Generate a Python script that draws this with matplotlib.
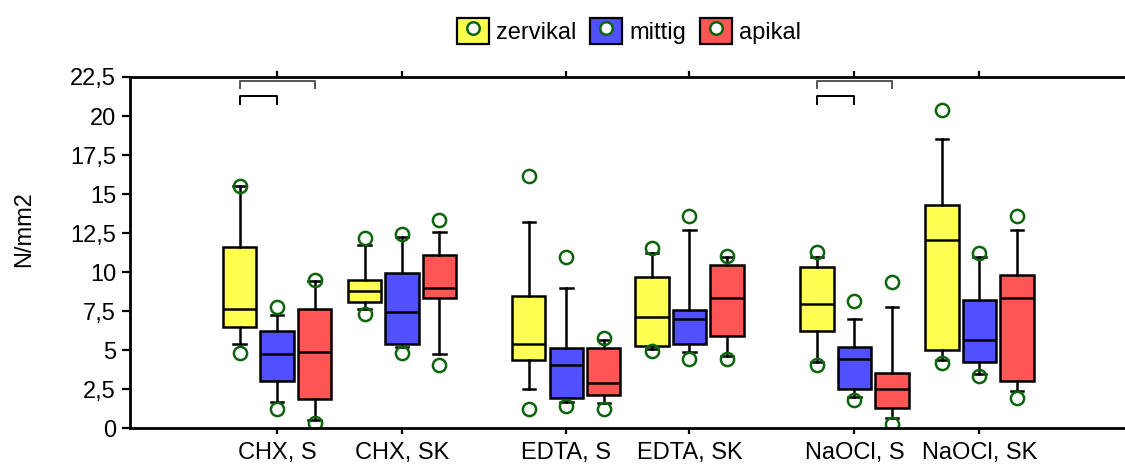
import matplotlib.pyplot as plt
from matplotlib.patches import Patch
from matplotlib.lines import Line2D
from matplotlib.legend_handler import HandlerTuple

plt.rcParams['font.family'] = ['Liberation Sans', 'DejaVu Sans']

categories = ['CHX, S', 'CHX, SK', 'EDTA, S', 'EDTA, SK', 'NaOCl, S', 'NaOCl, SK']
series = ['zervikal', 'mittig', 'apikal']
colors = ['#ffff50', '#5050ff', '#ff5555']

# per category: low outlier, lower whisker, q1, median, q3, upper whisker, high outlier
zervikal = [
    [4.85, 5.43, 6.50, 7.67, 11.62, 15.50, 15.50],
    [7.35, 7.67, 8.06, 8.78, 9.53, 11.77, 12.20],
    [1.26, 2.50, 4.36, 5.43, 8.46, 13.23, 16.13],
    [4.96, 5.11, 5.28, 7.14, 9.68, 11.24, 11.52],
    [4.08, 4.25, 6.22, 7.93, 10.32, 10.94, 11.26],
    [4.19, 4.36, 5.00, 12.05, 14.32, 18.53, 20.38],
]
mittig = [
    [1.26, 1.69, 3.01, 4.77, 6.22, 7.24, 7.78],
    [4.85, 5.21, 5.41, 7.46, 9.96, 12.27, 12.44],
    [1.43, 1.69, 1.97, 4.08, 5.17, 8.97, 10.96],
    [4.47, 4.87, 5.38, 7.03, 7.56, 12.69, 13.61],
    [1.79, 2.01, 2.50, 4.47, 5.19, 7.01, 8.18],
    [3.33, 3.50, 4.25, 5.68, 8.21, 10.94, 11.24],
]
apikal = [
    [0.36, 0.51, 1.86, 4.87, 7.67, 9.42, 9.53],
    [4.08, 4.77, 8.35, 9.00, 11.13, 12.56, 13.33],
    [1.26, 1.65, 2.12, 2.91, 5.17, 5.64, 5.81],
    [4.42, 4.62, 5.92, 8.35, 10.45, 10.94, 11.03],
    [0.26, 0.66, 1.28, 2.50, 3.55, 7.78, 9.38],
    [1.97, 2.39, 3.03, 8.35, 9.81, 12.69, 13.61],
]
yticks = [0, 2.5, 5, 7.5, 10, 12.5, 15, 17.5, 20, 22.5]
ytick_labels = ['0', '2,5', '5', '7,5', '10', '12,5', '15', '17,5', '20', '22,5']
bracket_groups = [0, 4]   # categories with significance brackets

group_x = [1, 2, 3.315, 4.30, 5.62, 6.62]
offsets = [-0.3, 0.0, 0.3]
green = '#0d650d'
fs = 17

fig = plt.figure(figsize=(11.25, 4.66), dpi=100)
ax = fig.add_axes([130/1125, 1 - 428.3/466, 995/1125, (428.3 - 77)/466])

for data, off, col in zip([zervikal, mittig, apikal], offsets, colors):
    stats = []
    for row in data:
        lo, wlo, q1, med, q3, whi, hi = row
        stats.append(dict(med=med, q1=q1, q3=q3, whislo=wlo, whishi=whi, fliers=[lo, hi]))
    ax.bxp(stats, positions=[g + off for g in group_x], widths=0.265,
           patch_artist=True, capwidths=0.1, manage_ticks=False,
           boxprops=dict(facecolor=col, edgecolor='black', linewidth=1.8),
           medianprops=dict(color='black', linewidth=1.8),
           whiskerprops=dict(color='black', linewidth=1.8),
           capprops=dict(color='black', linewidth=1.8),
           flierprops=dict(marker='o', markersize=9.5, markerfacecolor='none',
                           markeredgecolor=green, markeredgewidth=1.8))

for i in bracket_groups:
    g = group_x[i]
    ax.plot([g - 0.3, g - 0.3, g + 0.3, g + 0.3], [21.78, 22.26, 22.26, 21.78],
            color='#555555', lw=1.4, clip_on=False)
    ax.plot([g - 0.3, g - 0.3, g, g], [20.8, 21.3, 21.3, 20.8],
            color='black', lw=1.4, clip_on=False)

ax.set_xlim(-0.176, 7.784)
ax.set_ylim(0, 22.5)
ax.set_xticks(group_x)
ax.set_xticklabels(categories, fontsize=fs)
ax.set_yticks(yticks)
ax.set_yticklabels(ytick_labels, fontsize=fs)
ax.spines['right'].set_visible(False)
for s in ['left', 'top', 'bottom']:
    ax.spines[s].set_linewidth(2)
ax.tick_params(axis='x', top=True, direction='out', length=4, width=1.6, pad=6)
ax.tick_params(axis='y', direction='out', length=6, width=1.6, pad=4)

fig.text(24/1125, 1 - 229/466, 'N/mm2', rotation=90, ha='center', va='center', fontsize=fs)

handles = []
for col in colors:
    handles.append((Patch(facecolor=col, edgecolor='black', linewidth=1.6),
                    Line2D([], [], marker='o', linestyle='none', markersize=9,
                           markerfacecolor='white', markeredgecolor=green, markeredgewidth=1.8)))
fig.legend(handles, series, loc='center', bbox_to_anchor=(629/1125, 1 - 31/466), ncol=3,
           frameon=False, fontsize=fs, handlelength=1.35, handleheight=1.35,
           handletextpad=0.3, columnspacing=0.6,
           handler_map={tuple: HandlerTuple(ndivide=1, pad=0)})

fig.savefig('out.png', dpi=100)
